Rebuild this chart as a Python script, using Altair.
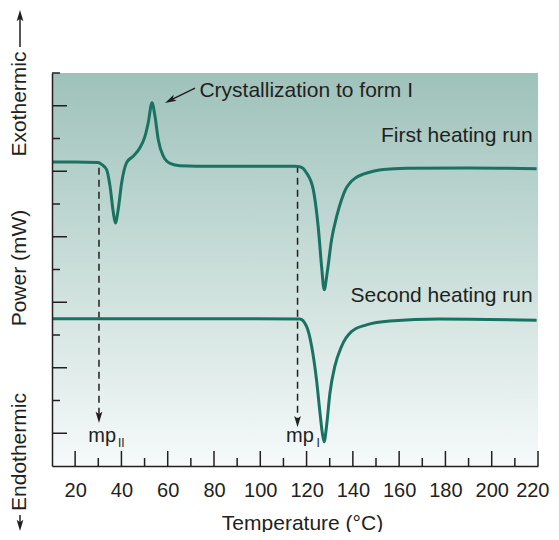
import altair as alt
import pandas as pd

# ---------------- data ----------------
temp_first = [10, 20, 29.9, 31.6, 33.6, 35.1, 36.5, 37.4, 38.6, 40.1,
              42.3, 45.1, 48.0, 50.2, 51.6, 53.2, 54.5, 55.9, 58.1, 61.0,
              65.3, 80, 100, 115, 117.1, 120.0, 122.9, 125.0, 126.5, 127.6,
              128.9, 130.8, 133.0, 135.1, 136.8, 138.7, 141.0, 144.5, 148.8, 153.1,
              163.2, 190, 219.4]
power_first = [9.28, 9.28, 9.27, 9.20, 9.05, 8.53, 7.74, 7.42, 7.83, 8.65,
               9.27, 9.46, 9.72, 10.07, 10.49, 11.09, 10.68, 9.97, 9.46, 9.24,
               9.17, 9.15, 9.15, 9.15, 9.14, 8.95, 8.44, 7.32, 6.09, 5.38,
               5.90, 6.91, 7.62, 8.13, 8.44, 8.64, 8.79, 8.91, 9.00, 9.05,
               9.09, 9.10, 9.08]

temp_second = [10, 60, 117.1, 120.0, 122.2, 124.3, 125.8, 126.8, 127.6, 128.6,
               130.1, 132.2, 135.1, 139.5, 145.9, 156.0, 177.6, 219.4]
power_second = [4.50, 4.50, 4.49, 4.26, 3.65, 2.63, 1.62, 1.01, 0.74, 1.20,
                2.23, 3.04, 3.65, 4.11, 4.31, 4.43, 4.49, 4.45]

x_major = [20, 40, 60, 80, 100, 120, 140, 160, 180, 200, 220]
x_minor = [30, 50, 70, 90, 110, 130, 150, 170, 190, 210]
y_long = [1, 3, 5, 7, 9, 11]
y_short = [2, 4, 6, 8, 10, 12]

mp_temp = [30.3, 116.1]
mp_top = [9.11, 9.17]
mp_head = [1.50, 1.37]
mp_text = ["mp", "mp"]
mp_text_T = [25.7, 111.1]
mp_sub = ["II", "I"]
mp_sub_T = [38.5, 124.3]

# ---------------- layout ----------------
W, H = 486, 393
FONT = "Liberation Sans"
INK = "#231f20"
LINE = "#1a7262"
ARROW = "M0,-1L0.55,0.85L0,0.45L-0.55,0.85Z"

xs = alt.Scale(domain=[10, 220], nice=False, zero=False)
ys = alt.Scale(domain=[0, 12], nice=False, zero=False)

x_axis = alt.Axis(values=x_major, ticks=False, grid=False, domainColor=INK,
                  domainWidth=1.5, labelFont=FONT, labelFontSize=20,
                  labelColor=INK, labelPadding=14, labelFlush=True,
                  labelFlushOffset=11, labelOverlap=False, labelBound=False,
                  title="Temperature (°C)",
                  titleFont=FONT, titleFontSize=21, titleFontWeight="normal",
                  titleColor=INK, titleX=250, titleY=63,
                  titleBaseline="alphabetic", titleAlign="center", zindex=1)
y_axis = alt.Axis(ticks=False, labels=False, grid=False, title=None,
                  domainColor=INK, domainWidth=1.5, zindex=1)


def ex(f):
    return alt.X(f"{f}:Q", scale=xs, axis=x_axis)


def ey(f):
    return alt.Y(f"{f}:Q", scale=ys, axis=y_axis)


one = pd.DataFrame({"k": [0]})

grad = alt.Gradient(gradient="linear",
                    stops=[alt.GradientStop(color="#9ec2ba", offset=0),
                           alt.GradientStop(color="#f6fafa", offset=1)],
                    x1=0, x2=0, y1=0, y2=1)

bg = alt.Chart(pd.DataFrame({"x0": [10], "x1": [220], "y0": [0], "y1": [12]})).mark_rect(
    fill=grad).encode(x=ex("x0"), x2="x1", y=ey("y0"), y2="y1")

# ticks (inward)
xt_major = alt.Chart(pd.DataFrame({"T": x_major})).mark_rule(color=INK, strokeWidth=1.5).encode(
    x=ex("T"), y=alt.value(H), y2=alt.value(H - 15))
xt_minor = alt.Chart(pd.DataFrame({"T": x_minor})).mark_rule(color=INK, strokeWidth=1.5).encode(
    x=ex("T"), y=alt.value(H), y2=alt.value(H - 8))
yt_long = alt.Chart(pd.DataFrame({"v": y_long})).mark_rule(color=INK, strokeWidth=1.5).encode(
    y=ey("v"), x=alt.value(0), x2=alt.value(15))
yt_short = alt.Chart(pd.DataFrame({"v": y_short})).mark_rule(color=INK, strokeWidth=1.5).encode(
    y=ey("v"), x=alt.value(0), x2=alt.value(8))

# dashed melting-point markers
mp_df = pd.DataFrame({"T": mp_temp, "top": mp_top, "head": mp_head})
mp_rules = alt.Chart(mp_df).mark_rule(color=INK, strokeWidth=1.5, strokeDash=[7, 5]).encode(
    x=ex("T"), y=ey("top"), y2="head")
mp_heads = alt.Chart(mp_df).mark_point(shape=ARROW, filled=True, size=150, angle=180,
                                       color=INK, opacity=1).encode(x=ex("T"), y=ey("head"))
mp_lab = alt.Chart(pd.DataFrame({"T": mp_text_T, "v": [0.74, 0.74], "t": mp_text})).mark_text(
    font=FONT, fontSize=20, color=INK, align="left", baseline="alphabetic").encode(
    x=ex("T"), y=ey("v"), text="t:N")
mp_sublab = alt.Chart(pd.DataFrame({"T": mp_sub_T, "v": [0.58, 0.58], "t": mp_sub})).mark_text(
    font=FONT, fontSize=12, color=INK, align="left", baseline="alphabetic").encode(
    x=ex("T"), y=ey("v"), text="t:N")

# curves
first = alt.Chart(pd.DataFrame({"T": temp_first, "P": power_first})).mark_line(
    color=LINE, strokeWidth=3, interpolate="monotone").encode(x=ex("T"), y=ey("P"))
second = alt.Chart(pd.DataFrame({"T": temp_second, "P": power_second})).mark_line(
    color=LINE, strokeWidth=3, interpolate="monotone").encode(x=ex("T"), y=ey("P"))

# annotations
run_lab = alt.Chart(pd.DataFrame({"T": [217.7, 217.7], "v": [9.90, 5.0],
                                  "t": ["First heating run", "Second heating run"]})).mark_text(
    font=FONT, fontSize=21, color=INK, align="right", baseline="alphabetic").encode(
    x=ex("T"), y=ey("v"), text="t:N")
cryst_lab = alt.Chart(pd.DataFrame({"T": [73.7], "v": [11.26], "t": ["Crystallization to form I"]})).mark_text(
    font=FONT, fontSize=21, color=INK, align="left", baseline="alphabetic").encode(
    x=ex("T"), y=ey("v"), text="t:N")
cryst_line = alt.Chart(pd.DataFrame({"T": [61.2], "v": [11.17], "T2": [71.8], "v2": [11.54]})).mark_rule(
    color=INK, strokeWidth=1.5).encode(x=ex("T"), y=ey("v"), x2="T2", y2="v2")
cryst_head = alt.Chart(pd.DataFrame({"T": [61.2], "v": [11.17]})).mark_point(
    shape=ARROW, filled=True, size=150, angle=243.4, color=INK, opacity=1).encode(
    x=ex("T"), y=ey("v"))


# y-axis words and arrows (outside the plot)
def ytext(label, py):
    return alt.Chart(one).mark_text(text=label, font=FONT, fontSize=21, color=INK, angle=270,
                                    align="center", baseline="middle").encode(
        x=alt.value(-32), y=alt.value(py))


y_exo = ytext("Exothermic", 31)
y_pow = ytext("Power (mW)", 195)
y_endo = ytext("Endothermic", 379)
up_line = alt.Chart(one).mark_rule(color=INK, strokeWidth=1.5).encode(
    x=alt.value(-32), y=alt.value(-26), y2=alt.value(-57))
up_head = alt.Chart(one).mark_point(shape=ARROW, filled=True, size=150, angle=0, color=INK,
                                    opacity=1).encode(x=alt.value(-32), y=alt.value(-57))
dn_line = alt.Chart(one).mark_rule(color=INK, strokeWidth=1.5).encode(
    x=alt.value(-32), y=alt.value(442), y2=alt.value(452))
dn_head = alt.Chart(one).mark_point(shape=ARROW, filled=True, size=150, angle=180, color=INK,
                                    opacity=1).encode(x=alt.value(-32), y=alt.value(452))

chart = alt.layer(
    bg, xt_major, xt_minor, yt_long, yt_short,
    mp_rules, mp_heads, first, second, mp_lab, mp_sublab,
    run_lab, cryst_lab, cryst_line, cryst_head,
    y_exo, y_pow, y_endo, up_line, up_head, dn_line, dn_head,
).properties(
    width=W, height=H,
    autosize=alt.AutoSizeParams(type="none"),
    padding={"left": 44, "top": 65, "right": 13, "bottom": 66},
).configure_view(strokeWidth=0)

chart.save("out.html", embed_options={"renderer": "svg", "actions": False})
